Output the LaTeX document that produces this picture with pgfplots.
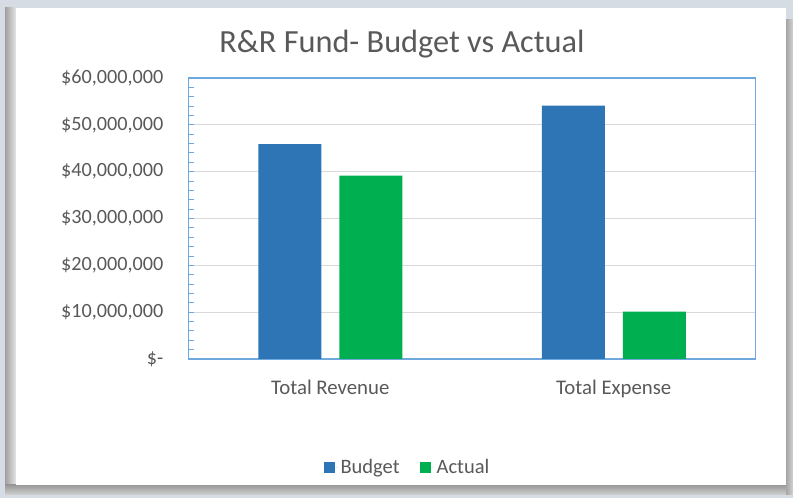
\documentclass[border=0pt]{standalone}
\usepackage{fontspec}
\setmainfont{Carlito}
\usepackage{pgfplots}
\pgfplotsset{compat=1.18}
\definecolor{budget}{HTML}{2E75B6}
\definecolor{actual}{HTML}{00B050}
\definecolor{txt}{HTML}{595959}
\definecolor{axblue}{HTML}{6FA8DC}
\definecolor{gridc}{HTML}{D9D9D9}
\definecolor{bg}{HTML}{D6DCE4}
\begin{document}
\begin{tikzpicture}
\useasboundingbox (0,0) rectangle (793bp,498bp);
\fill[bg] (0,0) rectangle (793bp,498bp);
\shade[left color=gray!75, right color=gray!20] (5bp,3bp) rectangle (16bp,490bp);
\shade[top color=gray!80, bottom color=gray!35] (5bp,3bp) rectangle (793bp,13bp);
\shade[left color=gray!70, right color=gray!35] (786bp,3bp) rectangle (793bp,478bp);
\fill[white] (16bp,13bp) rectangle (786bp,490bp);
\node[anchor=base, text=txt, font=\fontsize{32.3bp}{38bp}\selectfont] at (402bp,445bp) {R\&R Fund- Budget vs Actual};
\begin{axis}[
  at={(188.5bp,139bp)}, anchor=south west,
  scale only axis, width=567bp, height=281bp,
  ybar=18bp, bar width=63bp,
  xmin=-0.5, xmax=1.5, ymin=0, ymax=60000000,
  xtick={0,1}, xticklabels={Total Revenue, Total Expense},
  ytick={0,10000000,20000000,30000000,40000000,50000000,60000000},
  yticklabels={{\$-\hspace{9bp}},{\$10,000,000},{\$20,000,000},{\$30,000,000},{\$40,000,000},{\$50,000,000},{\$60,000,000}},
  scaled y ticks=false,
  minor y tick num=4,
  ytick pos=left, xtick pos=bottom,
  tick align=inside,
  major tick length=5bp, minor tick length=5bp,
  xtick style={draw=none},
  ytick style={color=axblue, line width=0.9bp},
  minor y tick style={color=axblue, line width=0.9bp},
  axis line style={color=axblue, line width=1.4bp},
  ymajorgrids, grid style={color=gridc, line width=1.3bp},
  yticklabel style={anchor=east, inner sep=0pt, xshift=-25bp, text=txt, font=\fontsize{20.2bp}{24bp}\selectfont},
  xticklabel style={anchor=base, inner sep=0pt, yshift=-35bp, text=txt, font=\fontsize{20.8bp}{25bp}\selectfont},
  legend columns=-1,
  legend image code/.code={\fill[#1] (0bp,-5.5bp) rectangle (11bp,5.5bp);\path (0bp,0bp) -- (14bp,0bp);},
  legend style={at={(0.387,-0.385)}, anchor=center, draw=none, fill=none,
    font=\fontsize{20.5bp}{24bp}\selectfont, text=txt,
    nodes={inner xsep=3bp, inner ysep=1bp},
    /tikz/every even column/.append style={column sep=17bp}},
]
\addplot[fill=budget, draw=none] coordinates {(0,45900000) (1,54100000)};
\addplot[fill=actual, draw=none] coordinates {(0,39150000) (1,10100000)};
\legend{Budget, Actual}
\end{axis}
\end{tikzpicture}
\end{document}
